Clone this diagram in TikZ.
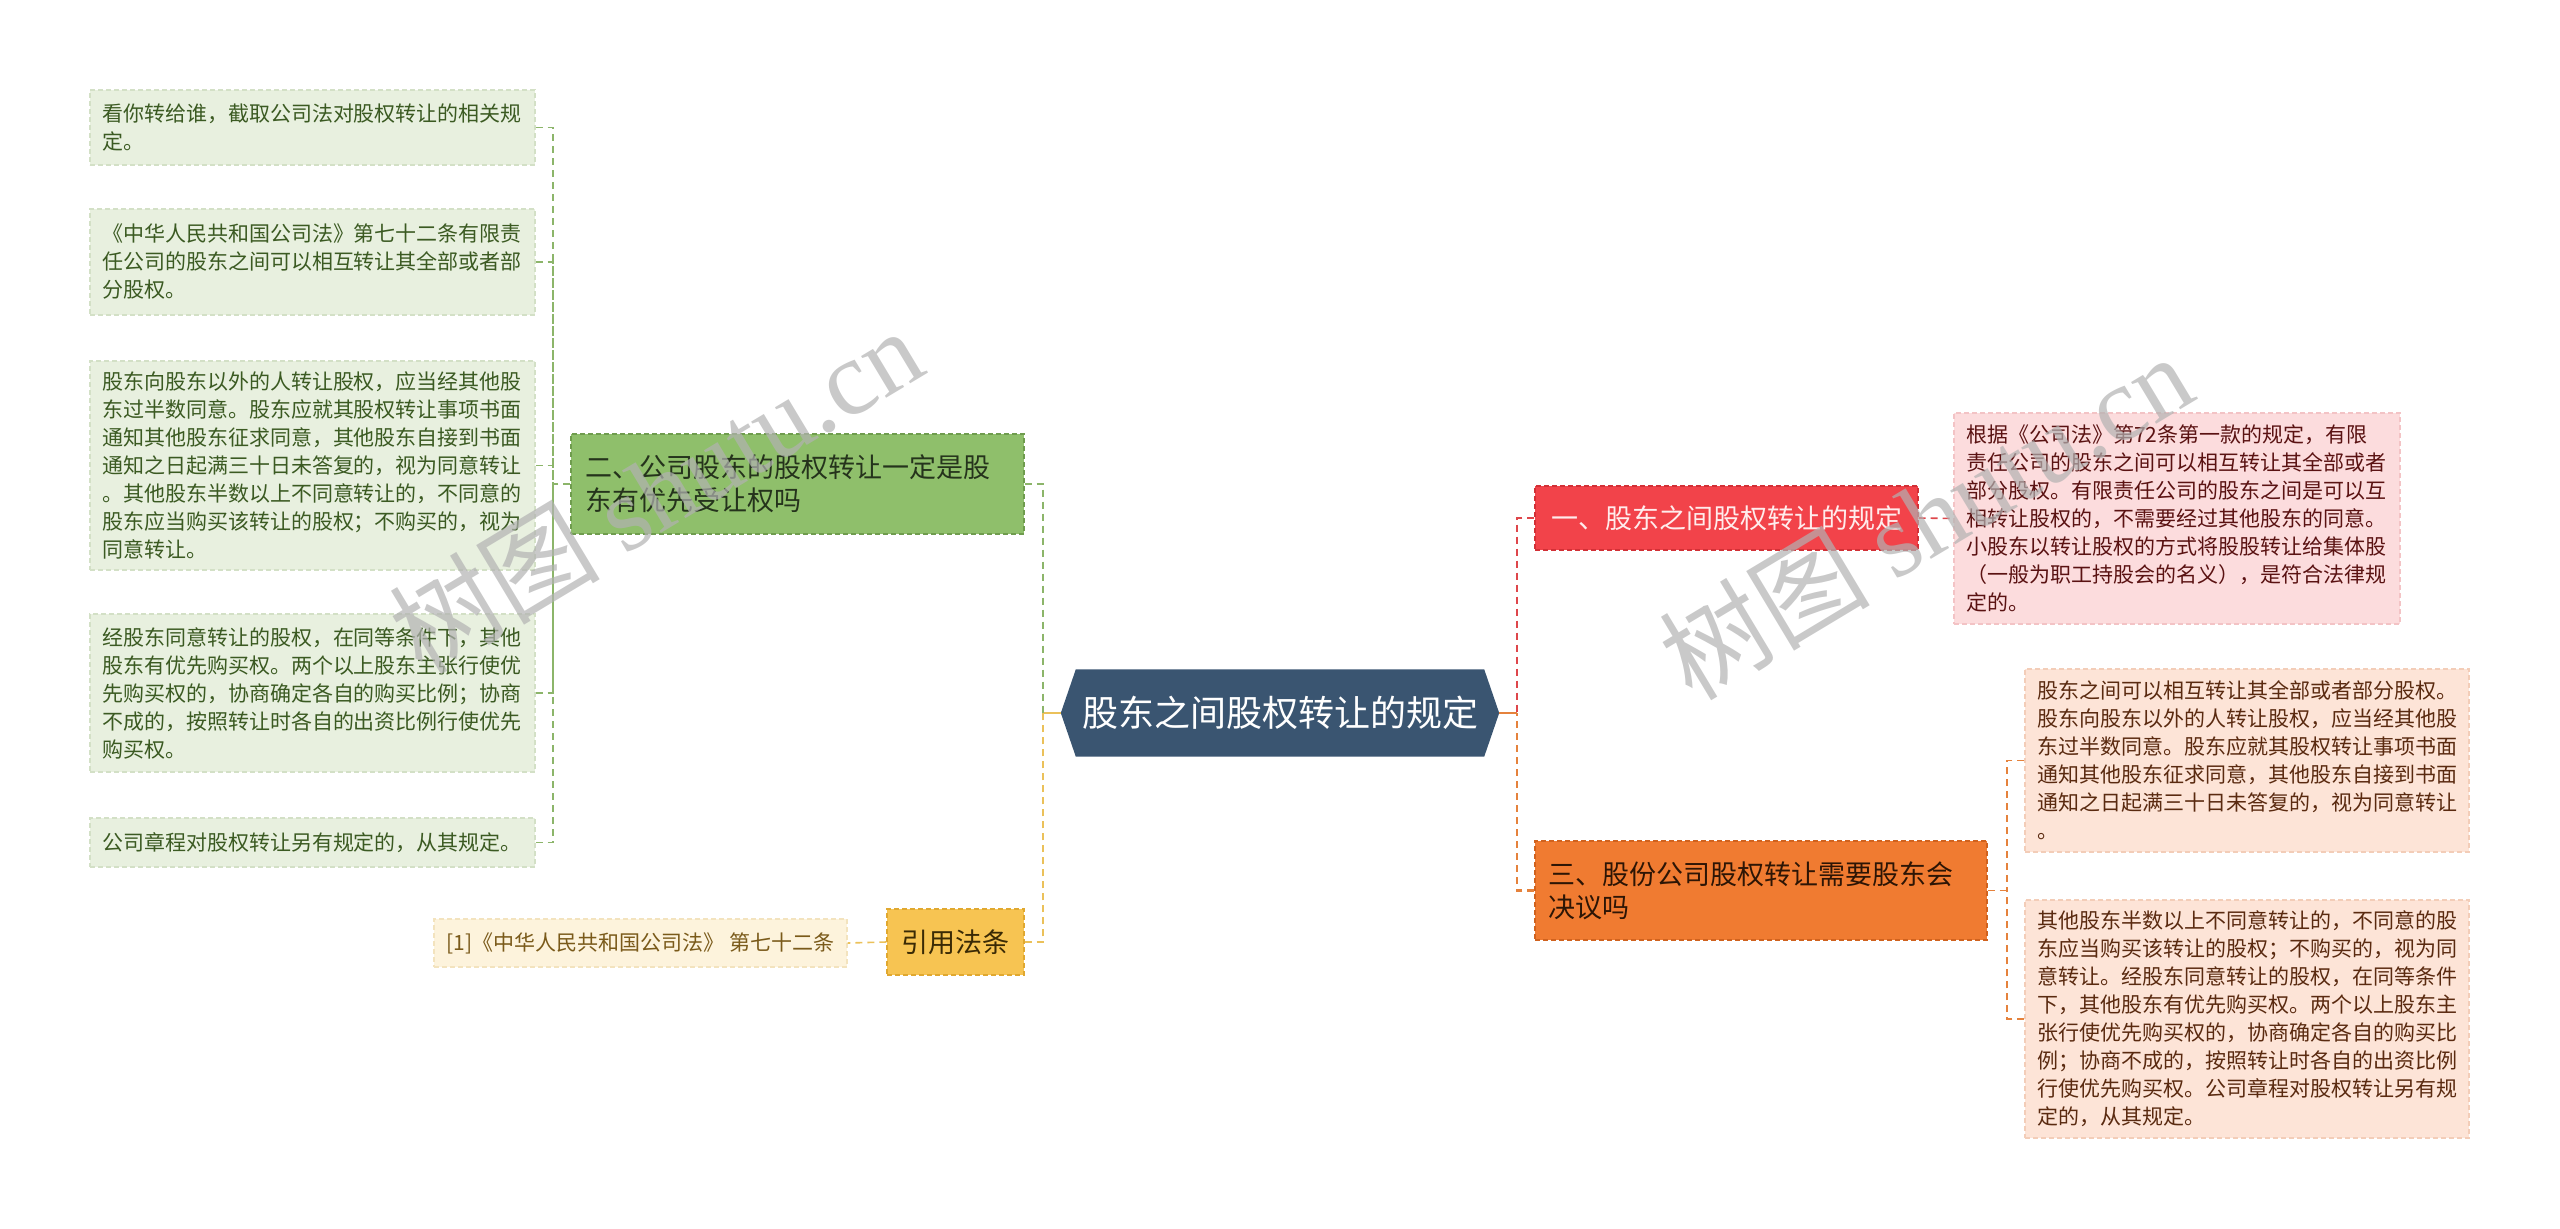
\documentclass[tikz,border=0pt]{standalone}
\usepackage{fontspec}
\setmainfont{Noto Sans CJK SC}
\newfontfamily\wmlatin{Liberation Serif}
\usetikzlibrary{backgrounds}
\definecolor{cDark}{HTML}{3A5571}
\definecolor{gFill}{HTML}{8FBF6B}
\definecolor{gEdge}{HTML}{6F9C4E}
\definecolor{gText}{HTML}{25331C}
\definecolor{glFill}{HTML}{E8F0DF}
\definecolor{glEdge}{HTML}{D3E0C6}
\definecolor{glText}{HTML}{3B5A22}
\definecolor{gLine}{HTML}{8CB56A}
\definecolor{yFill}{HTML}{F7C452}
\definecolor{yEdge}{HTML}{E0A830}
\definecolor{yText}{HTML}{3A2A05}
\definecolor{ylFill}{HTML}{FDF3DC}
\definecolor{ylEdge}{HTML}{F3E3BE}
\definecolor{ylText}{HTML}{7A5A1A}
\definecolor{yLine}{HTML}{EBC15A}
\definecolor{rFill}{HTML}{F2434A}
\definecolor{rEdge}{HTML}{D23036}
\definecolor{rText}{HTML}{FFECEC}
\definecolor{plFill}{HTML}{FCDCDD}
\definecolor{plEdge}{HTML}{F3C3C5}
\definecolor{plText}{HTML}{5A1212}
\definecolor{rLine}{HTML}{DE464B}
\definecolor{oFill}{HTML}{F07B31}
\definecolor{oEdge}{HTML}{D0621E}
\definecolor{oText}{HTML}{2D1505}
\definecolor{olFill}{HTML}{FDE4D7}
\definecolor{olEdge}{HTML}{F3CDB8}
\definecolor{olText}{HTML}{5A2A10}
\definecolor{oLine}{HTML}{E5823C}
\begin{document}
\begin{tikzpicture}[x=1pt,y=-1pt,
  boxbase/.style={rectangle,inner xsep=13pt,inner ysep=4pt,line width=1.2pt,dash pattern=on 5pt off 3pt,anchor=center},
  leafbox/.style={boxbase,font=\fontsize{21}{28}\selectfont,align=left,inner xsep=12pt},
  mainbox/.style={boxbase,font=\fontsize{27}{33}\selectfont,align=left},
  gleaf/.style={leafbox,fill=glFill,draw=glEdge,text=glText,text width=421pt,minimum width=445pt},
  conn/.style={line width=2.4pt,dash pattern=on 7pt off 5pt},
  leafconn/.style={line width=1.6pt,dash pattern=on 7pt off 5pt},
  wm/.style={text=black!30,opacity=0.7,rotate=31,font=\fontsize{106}{116}\selectfont}
]
\useasboundingbox (0,0) rectangle (2560,1229);

% central node
\node[font=\fontsize{36}{44}\selectfont,text=white,minimum width=438pt,minimum height=87pt,inner sep=0pt] (c) at (1280,713) {股东之间股权转让的规定};
\begin{scope}[on background layer]
\fill[cDark] (c.west) -- ([xshift=15pt]c.north west) -- ([xshift=-15pt]c.north east) -- (c.east) -- ([xshift=-15pt]c.south east) -- ([xshift=15pt]c.south west) -- cycle;
\end{scope}

\coordinate (lj) at (1043,713);
\coordinate (rj) at (1517,713);
\coordinate (gj) at (553,484);
\coordinate (oj) at (2007,890.5);

% left main branches
\node[mainbox,fill=gFill,draw=gEdge,text=gText,text width=425pt,minimum width=453pt,minimum height=100pt] (g1) at (797.5,484) {二、公司股东的股权转让一定是股\\东有优先受让权吗};
\node[mainbox,fill=yFill,draw=yEdge,text=yText,minimum width=137pt,minimum height=66pt,inner xsep=10pt] (y1) at (955.5,942) {引用法条};

% green leaves
\node[gleaf,minimum height=75pt] (gl1) at (312.5,127.5) {看你转给谁，截取公司法对股权转让的相关规\\定。};
\node[gleaf,minimum height=106pt] (gl2) at (312.5,262) {《中华人民共和国公司法》第七十二条有限责\\任公司的股东之间可以相互转让其全部或者部\\分股权。};
\node[gleaf,minimum height=209pt] (gl3) at (312.5,465.5) {股东向股东以外的人转让股权，应当经其他股\\东过半数同意。股东应就其股权转让事项书面\\通知其他股东征求同意，其他股东自接到书面\\通知之日起满三十日未答复的，视为同意转让\\。其他股东半数以上不同意转让的，不同意的\\股东应当购买该转让的股权；不购买的，视为\\同意转让。};
\node[gleaf,minimum height=158pt] (gl4) at (312.5,693) {经股东同意转让的股权，在同等条件下，其他\\股东有优先购买权。两个以上股东主张行使优\\先购买权的，协商确定各自的购买比例；协商\\不成的，按照转让时各自的出资比例行使优先\\购买权。};
\node[gleaf,minimum height=49pt] (gl5) at (312.5,842.5) {公司章程对股权转让另有规定的，从其规定。};

% yellow leaf
\node[leafbox,fill=ylFill,draw=ylEdge,text=ylText,minimum width=413pt,minimum height=48pt] (yl) at (640.5,943) {[1]《中华人民共和国公司法》 第七十二条};

% right main branches
\node[mainbox,fill=rFill,draw=rEdge,text=rText,minimum width=383pt,minimum height=64pt] (r1) at (1726.5,518) {一、股东之间股权转让的规定};
\node[mainbox,fill=oFill,draw=oEdge,text=oText,text width=425pt,minimum width=452pt,minimum height=99pt] (o1) at (1761,890.5) {三、股份公司股权转让需要股东会\\决议吗};

% right leaves
\node[leafbox,fill=plFill,draw=plEdge,text=plText,text width=422pt,minimum width=446pt,minimum height=211pt] (pl) at (2177,518.5) {根据《公司法》第72条第一款的规定，有限\\责任公司的股东之间可以相互转让其全部或者\\部分股权。有限责任公司的股东之间是可以互\\相转让股权的，不需要经过其他股东的同意。\\小股东以转让股权的方式将股股转让给集体股\\（一般为职工持股会的名义），是符合法律规\\定的。};
\node[leafbox,fill=olFill,draw=olEdge,text=olText,text width=420pt,minimum width=444pt,minimum height=183pt] (ol1) at (2247,760.5) {股东之间可以相互转让其全部或者部分股权。\\股东向股东以外的人转让股权，应当经其他股\\东过半数同意。股东应就其股权转让事项书面\\通知其他股东征求同意，其他股东自接到书面\\通知之日起满三十日未答复的，视为同意转让\\。};
\node[leafbox,fill=olFill,draw=olEdge,text=olText,text width=420pt,minimum width=444pt,minimum height=238pt] (ol2) at (2247,1019) {其他股东半数以上不同意转让的，不同意的股\\东应当购买该转让的股权；不购买的，视为同\\意转让。经股东同意转让的股权，在同等条件\\下，其他股东有优先购买权。两个以上股东主\\张行使优先购买权的，协商确定各自的购买比\\例；协商不成的，按照转让时各自的出资比例\\行使优先购买权。公司章程对股权转让另有规\\定的，从其规定。};

% connectors
\draw[line width=2.6pt,yLine] (c.west) -- (lj);
\draw[line width=2.6pt,oLine] (c.east) -- (rj);
\draw[conn,gLine] (g1.east) -| (lj);
\draw[conn,yLine] (y1.east) -| (lj);
\draw[conn,rLine] (r1.west) -| (rj);
\draw[conn,oLine] (o1.west) -| (rj);

\draw[leafconn,gLine] (g1.west) -- (gj);
\foreach \n in {gl1,gl2,gl3,gl4,gl5} \draw[leafconn,gLine] (\n.east) -| (gj);
\draw[leafconn,yLine] (y1.west) -- (yl.east);
\draw[leafconn,rLine] (r1.east) -- (pl.west);
\draw[leafconn,oLine] (o1.east) -- (oj);
\draw[leafconn,oLine] (ol1.west) -| (oj);
\draw[leafconn,oLine] (ol2.west) -| (oj);

% watermarks
\node[wm] (wm1) at (655,490) {树图 {\wmlatin shutu.cn}};
\node[wm] (wm2) at (1925,516) {树图 {\wmlatin shutu.cn}};
\end{tikzpicture}
\end{document}
